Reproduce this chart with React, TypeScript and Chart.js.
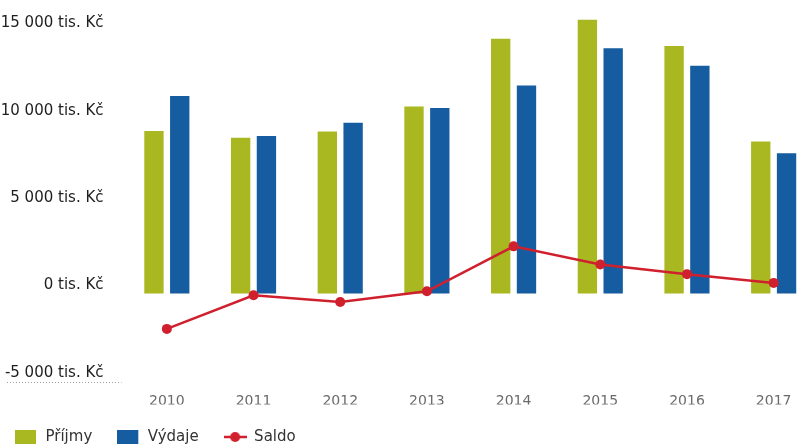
import { useEffect, useRef } from "react";
import { Chart, registerables } from "chart.js";

Chart.register(...registerables);

const years = ["2010", "2011", "2012", "2013", "2014", "2015", "2016", "2017"];
const prijmy = [9290, 8910, 9270, 10700, 14570, 15660, 14150, 8690];
const vydaje = [11290, 9010, 9770, 10610, 11890, 14030, 13030, 8020];
const saldo = [-2020, -100, -480, 130, 2700, 1660, 1110, 610];
const seriesNames = ["Příjmy", "Výdaje", "Saldo"];
const yTickValues = [-5000, 0, 5000, 10000, 15000];
const yMin = -5000;
const yMax = 16500;
const unitLabel = " tis. Kč";

const GREEN = "#a9b820";
const BLUE = "#165ca0";
const RED = "#d0202e";

function fmt(v: number): string {
  const s = Math.abs(v)
    .toString()
    .replace(/\B(?=(\d{3})+(?!\d))/g, " ");
  return (v < 0 ? "-" : "") + s + unitLabel;
}

function makeIcon(kind: "rect" | "line", color: string): HTMLCanvasElement {
  const c = document.createElement("canvas");
  c.width = 23;
  c.height = 14;
  const ctx = c.getContext("2d")!;
  ctx.fillStyle = color;
  ctx.strokeStyle = color;
  if (kind === "rect") {
    ctx.fillRect(0, 0, 21, 14);
  } else {
    ctx.lineWidth = 2.5;
    ctx.beginPath();
    ctx.moveTo(0, 7);
    ctx.lineTo(23, 7);
    ctx.stroke();
    ctx.beginPath();
    ctx.arc(11.5, 7, 5, 0, Math.PI * 2);
    ctx.fill();
  }
  return c;
}

const tweaks = {
  id: "tweaks",
  beforeLayout(chart: any) {
    const lg = chart.legend;
    if (lg && !lg.__patched) {
      const orig = lg.fit;
      lg.fit = function () {
        orig.call(this);
        this.height = 42.5;
      };
      lg.__patched = true;
    }
  },
  afterLayout(chart: any) {
    if (chart.legend) chart.legend.left = -10;
  },
  afterDraw(chart: any) {
    const ctx = chart.ctx;
    const y = Math.round(chart.chartArea.bottom) + 1.5;
    ctx.save();
    ctx.strokeStyle = "#a0a0a0";
    ctx.lineWidth = 1;
    ctx.setLineDash([1, 2]);
    ctx.beginPath();
    ctx.moveTo(7, y);
    ctx.lineTo(chart.chartArea.left - 2, y);
    ctx.stroke();
    ctx.restore();
  },
};

export default function App() {
  const ref = useRef<HTMLCanvasElement | null>(null);

  useEffect(() => {
    if (!ref.current) return;
    const icons = [makeIcon("rect", GREEN), makeIcon("rect", BLUE), makeIcon("line", RED)];
    const chart = new Chart(ref.current, {
      type: "bar",
      data: {
        labels: years,
        datasets: [
          {
            type: "bar",
            label: seriesNames[0],
            data: prijmy,
            backgroundColor: GREEN,
            borderWidth: 0,
            order: 1,
          },
          {
            type: "bar",
            label: seriesNames[1],
            data: vydaje,
            backgroundColor: BLUE,
            borderWidth: 0,
            order: 1,
          },
          {
            type: "line",
            label: seriesNames[2],
            data: saldo,
            borderColor: RED,
            backgroundColor: RED,
            borderWidth: 2.5,
            pointRadius: 5,
            pointBackgroundColor: RED,
            pointBorderWidth: 0,
            tension: 0,
            order: 0,
          },
        ] as any,
      },
      options: {
        animation: false,
        responsive: false,
        devicePixelRatio: 1,
        layout: { padding: { top: 3.7, right: 0, bottom: 0, left: 0 } },
        datasets: {
          bar: { categoryPercentage: 0.595, barPercentage: 0.75 },
        } as any,
        scales: {
          x: {
            offset: true,
            grid: { display: false, drawTicks: false },
            border: { display: false },
            ticks: {
              padding: 12,
              maxRotation: 0,
              autoSkip: false,
              color: "#6a6a6a",
              font: { family: "'DejaVu Sans'", size: 14 },
            },
            afterFit(scale: any) {
              scale.height = 23.5;
              scale.paddingLeft = 0;
              scale.paddingRight = 0;
            },
          },
          y: {
            min: yMin,
            max: yMax,
            grid: { display: false, drawTicks: false },
            border: { display: false },
            ticks: {
              stepSize: 5000,
              padding: 20,
              labelOffset: -8,
              color: "#1e1e1e",
              font: { family: "'DejaVu Sans'", size: 15 },
              callback: (v: any) => fmt(Number(v)),
            },
            afterBuildTicks(scale: any) {
              scale.ticks = yTickValues.map((v) => ({ value: v }));
            },
            afterFit(scale: any) {
              scale.width = 123.5;
              scale.paddingTop = 0;
              scale.paddingBottom = 0;
            },
          },
        },
        plugins: {
          tooltip: { enabled: false },
          legend: {
            position: "bottom",
            align: "start",
            labels: {
              usePointStyle: true,
              pointStyleWidth: 23,
              boxHeight: 14,
              padding: 25,
              color: "#333333",
              font: { family: "'DejaVu Sans'", size: 15 },
              generateLabels: () =>
                seriesNames.map((name, i) => ({
                  text: name,
                  pointStyle: icons[i],
                  fillStyle: "transparent",
                  strokeStyle: "transparent",
                  lineWidth: 0,
                  hidden: false,
                  datasetIndex: i,
                  fontColor: "#333333",
                })),
            },
          },
        },
      } as any,
      plugins: [tweaks],
    });
    return () => chart.destroy();
  }, []);

  return (
    <div
      style={{
        position: "fixed",
        left: 0,
        top: 0,
        width: 797,
        height: 447,
        overflow: "hidden",
        background: "#ffffff",
      }}
    >
      <canvas ref={ref} width={822} height={447} style={{ display: "block" }} />
    </div>
  );
}
